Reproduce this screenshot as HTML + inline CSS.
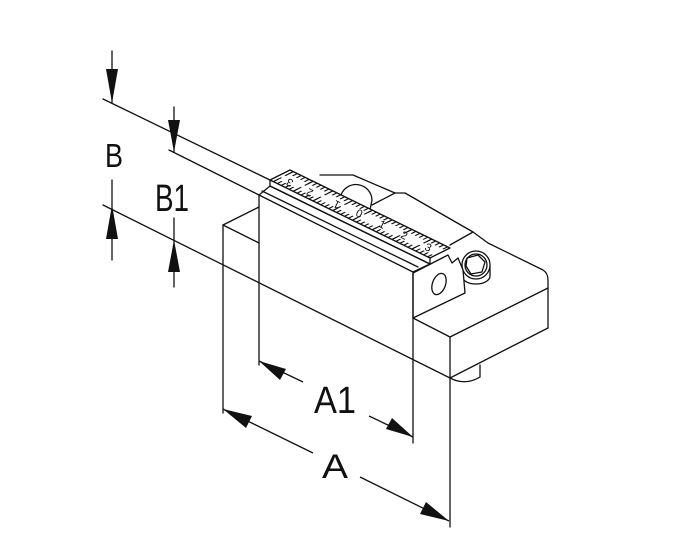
<!DOCTYPE html>
<html><head><meta charset="utf-8"><style>
html,body{margin:0;padding:0;background:#fff;}
svg{display:block;}
text{font-family:"Liberation Sans",sans-serif;fill:#111;}
</style></head><body>
<svg width="700" height="560" viewBox="0 0 700 560" xmlns="http://www.w3.org/2000/svg">
<g fill="none" stroke="#111" stroke-width="1.3" stroke-linejoin="round" stroke-linecap="round">
<!-- dimension B -->
<line x1="112" y1="51" x2="112" y2="103"/>
<line x1="112" y1="180" x2="112" y2="260"/>
<line x1="103" y1="99" x2="272" y2="181"/>
<line x1="103" y1="205" x2="450" y2="378"/>
<!-- dimension B1 -->
<line x1="174" y1="107" x2="174" y2="152"/>
<line x1="174" y1="218" x2="174" y2="287"/>
<line x1="169" y1="150" x2="259" y2="195"/>

<!-- base block -->
<line x1="223" y1="225" x2="223" y2="413"/>
<line x1="223" y1="225" x2="259" y2="207"/>
<line x1="223" y1="225" x2="259" y2="243"/>
<line x1="413" y1="318" x2="450" y2="337"/>
<line x1="450" y1="337" x2="450" y2="527"/>
<line x1="450" y1="337" x2="548" y2="288"/>
<path d="M548 328 L548 280 Q548 273 543 270 L488 243"/>
<line x1="548" y1="328" x2="450" y2="378"/>
<path d="M450 378 Q465 386 480 377 L480 365"/>

<!-- clamp block behind -->
<path d="M320 175 L353 175 L395 193 L372 205"/>
<path d="M395 193 L405 193 L473 232 L450 245"/>
<line x1="473" y1="232" x2="488" y2="243"/>
<path d="M341 195 A16 16 0 0 1 372 200 L370 210"/>
<!-- bolt right -->
<path d="M462 266 L462 276 A14 8 0 0 0 490 276 L490 266" fill="#fff"/>
<circle cx="476" cy="265" r="14" fill="#fff"/>
<circle cx="476" cy="265" r="11"/>
<path d="M467 258 L478 255 L485 262 L482 272 L471 274 L466 266 Z" />

<!-- jaw right face -->
<path d="M413 273 L448 255 L452 263 L458 258 L463 270 L465 293 L413 318 Z" fill="#fff"/>
<ellipse cx="439" cy="284" rx="6.5" ry="11" transform="rotate(20 439 284)"/>

<!-- jaw front face -->
<path d="M259 195 L413 272 L413 443" fill="none"/>
<line x1="259" y1="195" x2="259" y2="365"/>
<path d="M259 195 L270 186 L430 264 L413 272"/>

<!-- ruler -->
<path d="M270 180 L290 170 L450 248 L430 258 Z" fill="#fff"/>
<path d="M270 180 L270 186 L430 264 L430 258"/>
<line x1="262" y1="191" x2="418" y2="267"/>
</g>
<g transform="matrix(0.899,0.438,0.9,-0.45,270,180)" fill="none" stroke="#111">
<line x1="3" y1="2.5" x2="176" y2="2.5" stroke-width="5" stroke-dasharray="1.4 3"/>
<line x1="3" y1="4.5" x2="176" y2="4.5" stroke-width="9" stroke-dasharray="1.4 20.6"/>
<line x1="3" y1="19.5" x2="176" y2="19.5" stroke-width="5" stroke-dasharray="1.4 3"/>
<line x1="3" y1="17.5" x2="176" y2="17.5" stroke-width="9" stroke-dasharray="1.4 20.6"/>
</g>
<g font-size="11" text-anchor="middle" dominant-baseline="central">
<text transform="translate(290,182) rotate(206)">3</text>
<text transform="translate(310,192) rotate(206)">2</text>
<text transform="translate(337,204) rotate(206)">1</text>
<text transform="translate(359,214) rotate(26)">0</text>
<text transform="translate(382,225) rotate(26)">1</text>
<text transform="translate(404,236) rotate(26)">2</text>
<text transform="translate(428,248) rotate(26)">3</text>
</g>

<!-- dimension A1 / A lines -->
<g stroke="#111" stroke-width="1.3" fill="none">
<line x1="259" y1="361" x2="303" y2="382"/>
<line x1="369" y1="416" x2="413" y2="437"/>
<line x1="223" y1="409" x2="313" y2="453"/>
<line x1="360" y1="477" x2="449" y2="521"/>
</g>
<!-- arrowheads -->
<g fill="#111">
<polygon points="112,103 106,69 118,69"/>
<polygon points="112,205 106,239 118,239"/>
<polygon points="174,152 168,120 180,120"/>
<polygon points="174,240 168,272 180,272"/>
<polygon points="259,361 286,369 280,380"/>
<polygon points="413,437 386,429 392,418"/>
<polygon points="223,409 252,416 246,428"/>
<polygon points="449,521 420,514 426,502"/>
</g>
<text x="105" y="167" font-size="33" textLength="18" lengthAdjust="spacingAndGlyphs">B</text>
<text x="155" y="211" font-size="38" textLength="34" lengthAdjust="spacingAndGlyphs">B1</text>
<text x="314" y="413" font-size="38" textLength="42" lengthAdjust="spacingAndGlyphs">A1</text>
<text x="322" y="478" font-size="34" textLength="26" lengthAdjust="spacingAndGlyphs">A</text>
</svg>
</body></html>
